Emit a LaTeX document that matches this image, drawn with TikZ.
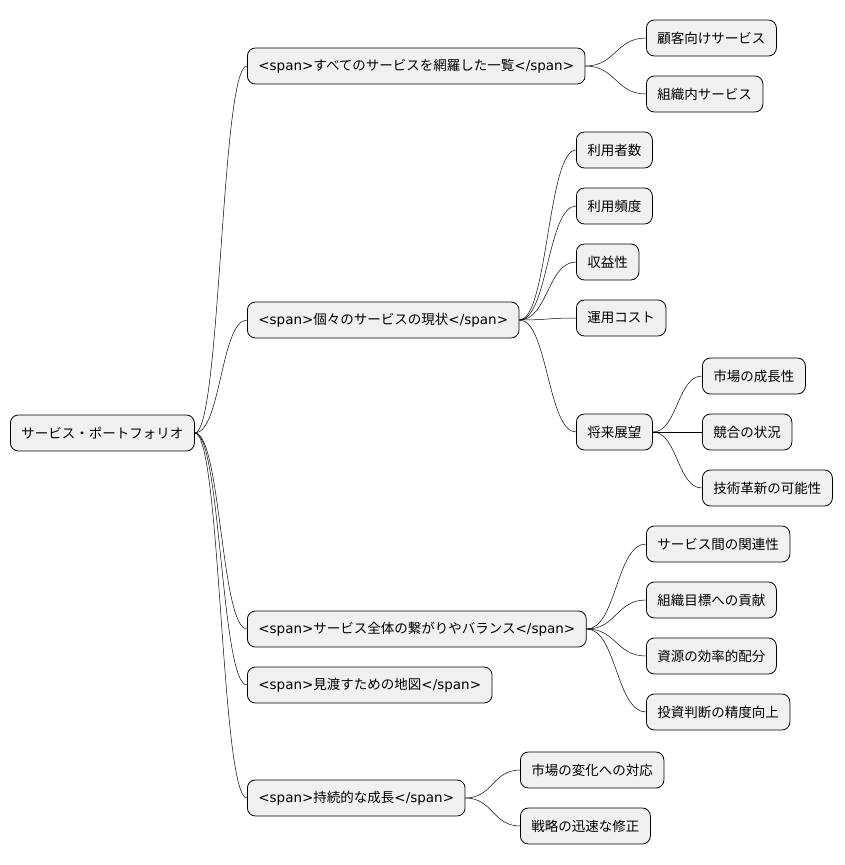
\documentclass[tikz,border=0pt]{standalone}
\usepackage{fontspec}
\setmainfont{Noto Sans CJK JP}
\newfontfamily\lat{DejaVu Sans}
\newcommand\tagged[1]{{\lat <span>}#1{\lat </span>}}
\usetikzlibrary{positioning,calc}

\begin{document}
\begin{tikzpicture}[x=1pt,y=-1pt,
    box/.style={draw, thick, rounded corners=8pt, fill=black!6, anchor=west,
        minimum height=36pt, inner xsep=11pt, font=\fontsize{13.5}{15}\selectfont},
    link/.style={draw, line width=0.5pt}]
    \useasboundingbox (0,0) rectangle (845,865);

    % root
    \node[box] (root) at (10,433) {サービス・ポートフォリオ};

    % first level
    \node[box] (list)   at (247,66)  {\tagged{すべてのサービスを網羅した一覧}};
    \node[box] (state)  at (247,320) {\tagged{個々のサービスの現状}};
    \node[box] (whole)  at (247,629) {\tagged{サービス全体の繋がりやバランス}};
    \node[box] (map)    at (247,685) {\tagged{見渡すための地図}};
    \node[box] (growth) at (247,798) {\tagged{持続的な成長}};

    % list
    \node[box] (customer) at (646,38) {顧客向けサービス};
    \node[box] (internal) at (646,94) {組織内サービス};

    % state
    \node[box] (users)   at (576,150) {利用者数};
    \node[box] (freq)    at (576,206) {利用頻度};
    \node[box] (profit)  at (576,262) {収益性};
    \node[box] (cost)    at (576,318) {運用コスト};
    \node[box] (outlook) at (576,432) {将来展望};
    \node[box] (market)  at (702,376) {市場の成長性};
    \node[box] (rivals)  at (702,432) {競合の状況};
    \node[box] (tech)    at (702,488) {技術革新の可能性};

    % whole
    \node[box] (relation) at (646,544) {サービス間の関連性};
    \node[box] (goal)     at (646,600) {組織目標への貢献};
    \node[box] (resource) at (646,656) {資源の効率的配分};
    \node[box] (invest)   at (646,712) {投資判断の精度向上};

    % growth
    \node[box] (change) at (520,770) {市場の変化への対応};
    \node[box] (fix)    at (520,826) {戦略の迅速な修正};

    % connectors
    \newcommand\mylink[2]{%
        \path[link] let \p1=(#1.east), \p2=(#2.west) in
            (\p1) .. controls (\x1/2+\x2/2,\y1) and (\x1/2+\x2/2,\y2) .. (\p2);}
    \foreach \c in {list,state,whole,map,growth} {\mylink{root}{\c}}
    \foreach \c in {customer,internal} {\mylink{list}{\c}}
    \foreach \c in {users,freq,profit,cost,outlook} {\mylink{state}{\c}}
    \foreach \c in {market,rivals,tech} {\mylink{outlook}{\c}}
    \foreach \c in {relation,goal,resource,invest} {\mylink{whole}{\c}}
    \foreach \c in {change,fix} {\mylink{growth}{\c}}
\end{tikzpicture}
\end{document}
